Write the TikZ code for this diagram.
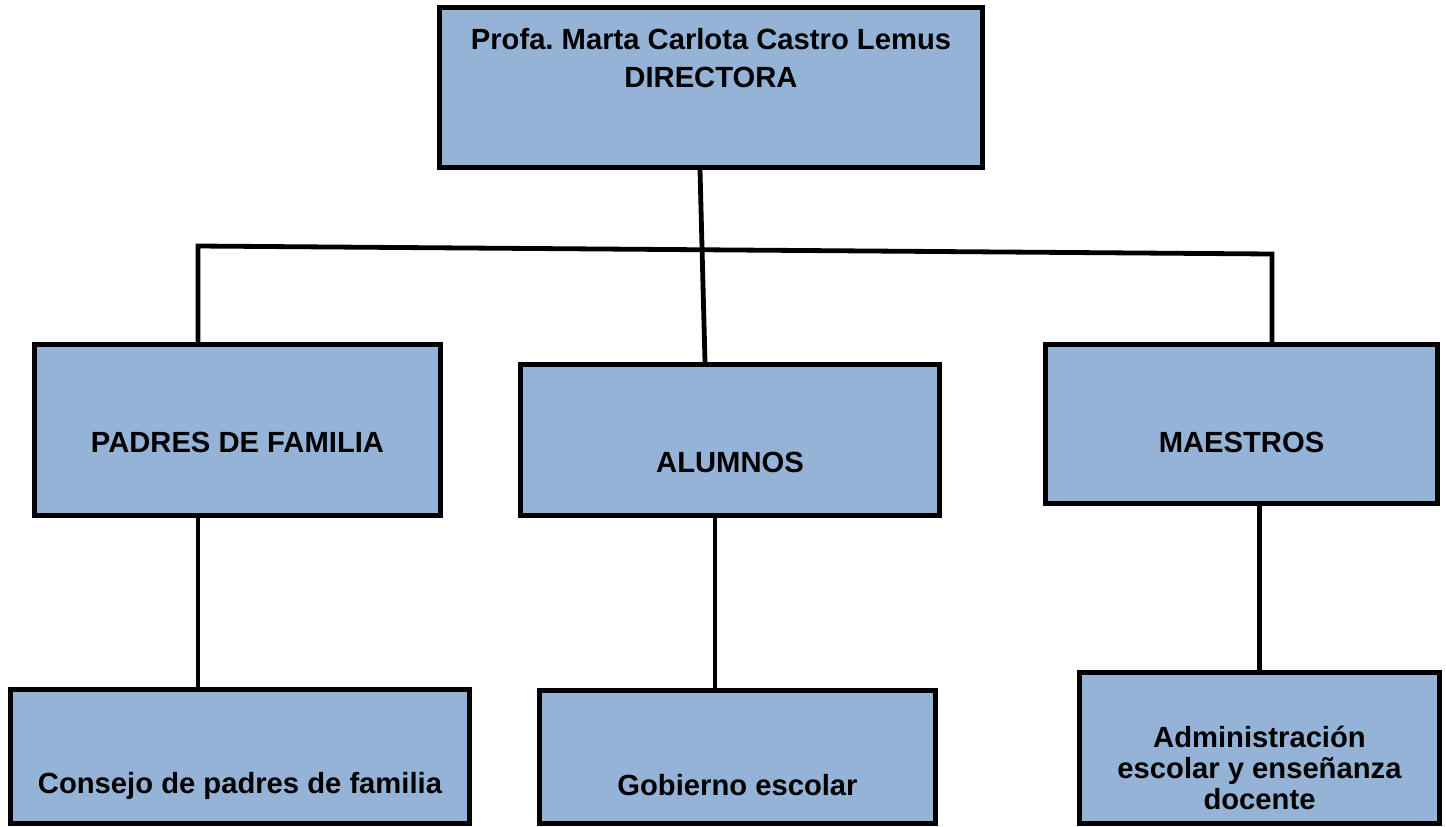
\documentclass[tikz,border=0pt]{standalone}
\usepackage{fontspec}
\setmainfont{Liberation Sans}
\definecolor{boxblue}{HTML}{95B3D7}
\begin{document}
\frenchspacing
\begin{tikzpicture}[x=0.5pt, y=-0.5pt,
    box/.style={draw, fill=boxblue, line width=2.5pt, inner sep=0pt},
    lbl/.style={font=\bfseries\fontsize{14.6}{17}\selectfont, inner sep=0pt, align=center},
    link/.style={line width=2.4pt}]
    \useasboundingbox (0,0) rectangle (1446,826);
    % Boxes
    \node[box, minimum width=271.5pt, minimum height=80pt] (dir) at (711,87.5) {};
    \node[box, minimum width=203pt, minimum height=85.5pt] (pad) at (237.5,430) {};
    \node[box, minimum width=209.5pt, minimum height=75.5pt] (alu) at (730,440) {};
    \node[box, minimum width=196pt, minimum height=79.5pt] (mae) at (1241.5,424) {};
    \node[box, minimum width=229.5pt, minimum height=67pt] (con) at (240,756.5) {};
    \node[box, minimum width=198pt, minimum height=66.5pt] (gob) at (737.5,757) {};
    \node[box, minimum width=180pt, minimum height=75.5pt] (adm) at (1259.5,748) {};
    % Texts
    \node[lbl, anchor=north, font=\bfseries\fontsize{14.6}{19}\selectfont] (dir-t) at (dir.center |- 0,28)
        {Profa. Marta Carlota Castro Lemus\\DIRECTORA};
    \node[lbl, anchor=base] (pad-t) at (pad.center |- 0,452) {PADRES DE FAMILIA};
    \node[lbl, anchor=base] (alu-t) at (alu.center |- 0,472) {ALUMNOS};
    \node[lbl, anchor=base] (mae-t) at (mae.center |- 0,452) {MAESTROS};
    \node[lbl, anchor=base] (con-t) at (con.center |- 0,793) {Consejo de padres de familia};
    \node[lbl, anchor=base] (gob-t) at (gob.center |- 0,795) {Gobierno escolar};
    \node[lbl, anchor=north, font=\bfseries\fontsize{14.6}{15.5}\selectfont] (adm-t) at (adm.center |- 0,725.5)
        {Administración\\escolar y enseñanza\\docente};
    % Connectors
    \coordinate (jl) at (198,246);
    \coordinate (jr) at (1272,254);
    \draw[link] (jl |- pad.north) -- (jl) -- (jr) -- (jr |- mae.north);
    \draw[link] (dir.south -| 700,0) -- (alu.north -| 705,0);
    \draw[link] (jl |- pad.south) -- (jl |- con.north);
    \draw[link] (alu.south -| 715,0) -- (gob.north -| 715,0);
    \draw[link] (mae.south -| adm.north) -- (adm.north);
\end{tikzpicture}
\end{document}
